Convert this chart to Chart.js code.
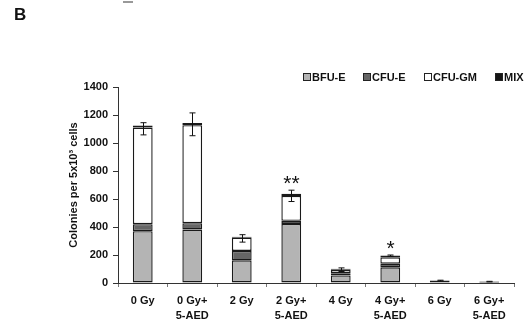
<!DOCTYPE html>
<html>
<head>
<meta charset="utf-8">
<script src="https://cdn.jsdelivr.net/npm/chart.js@4.4.1/dist/chart.umd.min.js"></script>
<style>
  body { margin: 0; background: #fff; }
  #wrap { position: relative; width: 527px; height: 320px; }
  #panel { position: absolute; left: 14px; top: 5px; font: bold 17px Arial, "Liberation Sans", sans-serif; color: #111; }
  #dash { position: absolute; left: 123px; top: 1px; width: 10px; height: 0; border-top: 2px solid #999; }
</style>
</head>
<body>
<div id="wrap">
  <canvas id="c" width="527" height="320"></canvas>
  <div id="panel">B</div>
  <div id="dash"></div>
</div>
<script>
// data
const categories = ['0 Gy', ['0 Gy+', '5-AED'], '2 Gy', ['2 Gy+', '5-AED'], '4 Gy', ['4 Gy+', '5-AED'], '6 Gy', ['6 Gy+', '5-AED']];
const bfuE  = [370, 382, 162, 422, 54, 112, 2, 1];
const cfuE  = [50, 45, 67, 22, 16, 26, 1, 1];
const cfuGM = [690, 700, 95, 178, 24, 46, 2, 1];
const mix   = [15, 15, 6, 15, 8, 12, 13, 8];
const errHigh = [1145, 1215, 345, 663, 108, 200, 20, 12];
const errLow  = [1058, 1052, 292, 582, 82, 190, 14, 8];
const stars = ['', '', '', '**', '', '*', '', ''];

const yTicks = [0, 200, 400, 600, 800, 1000, 1200, 1400];

const colors = {
  bfuE: '#b4b4b4',
  cfuE: '#666666',
  cfuGM: '#ffffff',
  mix: '#151515'
};

const font = 'Arial, "Liberation Sans", sans-serif';

const legendBox = {
  id: 'legendBox',
  afterDraw(chart) {
    const ctx = chart.ctx;
    const xs = [303, 363, 424, 495];
    ctx.save();
    ctx.font = 'bold 11px ' + font;
    ctx.textBaseline = 'middle';
    chart.data.datasets.forEach((ds, i) => {
      ctx.fillStyle = ds.backgroundColor;
      ctx.fillRect(xs[i], 73.5, 7, 7);
      ctx.strokeStyle = '#222';
      ctx.lineWidth = 1;
      ctx.strokeRect(xs[i] + 0.5, 73.5, 7, 7);
      ctx.fillStyle = '#111';
      ctx.fillText(ds.label, xs[i] + 9, 77.5);
    });
    ctx.restore();
  }
};

const errorBars = {
  id: 'errorBars',
  afterDatasetsDraw(chart) {
    const ctx = chart.ctx;
    const y = chart.scales.y;
    const meta = chart.getDatasetMeta(chart.data.datasets.length - 1);
    ctx.save();
    ctx.strokeStyle = '#111';
    ctx.lineWidth = 1;
    meta.data.forEach((bar, i) => {
      const x = Math.round(bar.x) + 0.5;
      const yh = y.getPixelForValue(errHigh[i]);
      const yl = y.getPixelForValue(errLow[i]);
      ctx.beginPath();
      ctx.moveTo(x, yh); ctx.lineTo(x, yl);
      ctx.moveTo(x - 3, yh); ctx.lineTo(x + 3, yh);
      ctx.moveTo(x - 3, yl); ctx.lineTo(x + 3, yl);
      ctx.stroke();
      if (stars[i]) {
        ctx.fillStyle = '#111';
        ctx.font = '21px ' + font;
        ctx.textAlign = 'center';
        ctx.textBaseline = 'middle';
        ctx.fillText(stars[i], x, yh - 6);
      }
    });
    ctx.restore();
  }
};

const ds = (label, data, color) => ({
  label: label,
  data: data,
  backgroundColor: color,
  borderColor: '#1a1a1a',
  borderWidth: 1.4,
  borderSkipped: false,
  barPercentage: 0.4,
  categoryPercentage: 1.0
});

new Chart(document.getElementById('c'), {
  type: 'bar',
  data: {
    labels: categories,
    datasets: [
      ds('BFU-E', bfuE, colors.bfuE),
      ds('CFU-E', cfuE, colors.cfuE),
      ds('CFU-GM', cfuGM, colors.cfuGM),
      ds('MIX', mix, colors.mix)
    ]
  },
  options: {
    responsive: false,
    animation: false,
    layout: { padding: { top: 87, right: 13, left: 0, bottom: 0 } },
    plugins: {
      legend: { display: false },
      tooltip: { enabled: false }
    },
    scales: {
      x: {
        stacked: true,
        afterFit: (s) => { s.height = 37; },
        border: { color: '#333', width: 1 },
        grid: { offset: true, drawOnChartArea: false, tickLength: 4, color: '#777' },
        ticks: {
          color: '#111',
          font: { family: font, size: 11, weight: 'bold', lineHeight: 1.35 },
          padding: 7,
          maxRotation: 0,
          autoSkip: false
        }
      },
      y: {
        stacked: true,
        min: 0,
        max: 1400,
        afterFit: (s) => { s.width = 118; },
        afterBuildTicks: (s) => { s.ticks = yTicks.map(v => ({ value: v })); },
        border: { color: '#333', width: 1 },
        grid: { drawOnChartArea: false, tickLength: 5, color: '#333' },
        ticks: {
          color: '#111',
          font: { family: font, size: 11, weight: 'bold' },
          padding: 5,
          callback: (v) => String(v)
        },
        title: {
          display: true,
          text: 'Colonies per 5x10³ cells',
          color: '#111',
          font: { family: font, size: 11, weight: 'bold' },
          padding: { top: 67, bottom: 0 }
        }
      }
    }
  },
  plugins: [legendBox, errorBars]
});
</script>
</body>
</html>
